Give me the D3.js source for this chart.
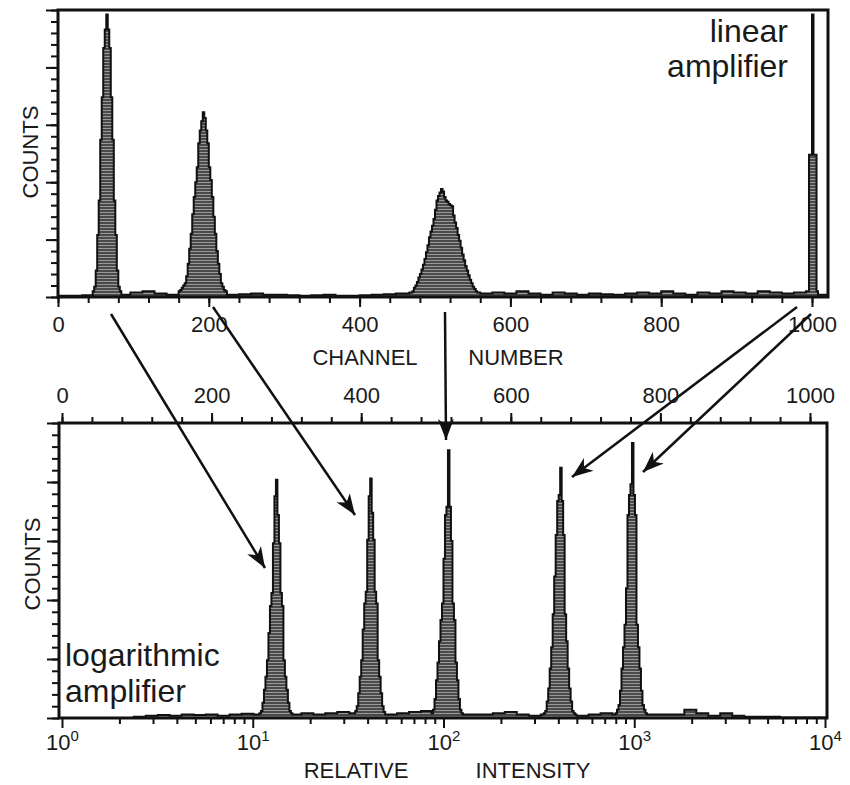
<!DOCTYPE html>
<html>
<head>
<meta charset="utf-8">
<script src="https://cdn.jsdelivr.net/npm/d3@7"></script>
<style>
  body { margin: 0; background: #fff; }
  text { font-family: "Liberation Sans", Arial, Helvetica, sans-serif; fill: #1a1a1a; }
</style>
</head>
<body>
<div id="chart"></div>
<script>
// tick labels
var channelTicks = [0, 200, 400, 600, 800, 1000];
var intensityTicks = [1, 10, 100, 1000, 10000];

// histograms are stored in 2-channel bins, background noise in 16-channel bins
var binWidth = 2;
var backgroundBinWidth = 16;

// linear amplifier (top panel)
var linearPeakStarts = [46, 160, 466, 996];
var linearPeak1 = [0.5, 0.9, 2.3, 5.4, 8.4, 13.7, 17.4, 21.7, 23.3, 24.6, 23.3, 21.7, 17.4, 13.7, 8.4, 5.4, 2.3, 0.9, 0.5];
var linearPeak2 = [0.5, 0.6, 0.8, 1.0, 1.2, 1.8, 2.9, 4.2, 5.5, 7.2, 8.7, 10.0, 11.3, 13.4, 14.5, 15.3, 16.1, 15.6, 14.5, 13.4,
                   11.3, 10.2, 8.7, 7.0, 5.5, 4.0, 2.9, 2.0, 1.2, 0.9, 0.6, 0.5];
var linearPeak3 = [0.4, 0.4, 0.5, 0.8, 1.0, 1.3, 1.7, 2.0, 2.4, 2.8, 3.3, 3.9, 4.5, 5.2, 5.7, 6.2, 6.8, 7.6, 8.4, 8.8,
                   9.1, 9.4, 9.2, 8.7, 8.4, 8.3, 8.1, 8.0, 7.9, 7.1, 6.5, 6.0, 5.4, 4.9, 4.3, 3.7, 3.2, 2.7, 2.3, 1.9,
                   1.5, 1.2, 0.9, 0.7, 0.5, 0.4, 0.4, 0.3, 0.3];
var linearPeak4 = [12.4, 12.4, 24.6, 12.4, 12.4];
var linearBackground = [0.1, 0.1, 0.15, 0.2, 0.2, 0.2, 0.4, 0.5, 0.3, 0.2, 0.2, 0.2, 0.2, 0.2, 0.2, 0.25,
                        0.3, 0.2, 0.2, 0.15, 0.1, 0.15, 0.2, 0.1, 0.1, 0.15, 0.2, 0.25, 0.3, 0.3, 0.3, 0.3,
                        0.3, 0.3, 0.3, 0.3, 0.4, 0.3, 0.5, 0.3, 0.2, 0.4, 0.3, 0.2, 0.3, 0.25, 0.2, 0.3,
                        0.4, 0.3, 0.5, 0.3, 0.2, 0.4, 0.3, 0.5, 0.4, 0.3, 0.5, 0.4, 0.3, 0.4, 0.5, 0.2];

// logarithmic amplifier (bottom panel)
var logPeakStarts = [264, 390, 494, 644, 740];
var logPeak1 = [0.4, 0.6, 1.3, 2.4, 3.5, 4.9, 7.2, 9.5, 10.6, 14.8, 18.8, 20.2, 17.2, 14.8, 10.6, 9.5, 4.9, 3.5, 2.4, 1.3, 0.6, 0.4];
var logPeak2 = [0.4, 0.6, 1.0, 2.1, 3.5, 4.9, 7.5, 9.7, 10.7, 15.1, 18.8, 20.3, 17.4, 15.1, 10.7, 9.7, 4.9, 3.5, 2.1, 1.0, 0.5];
var logPeak3 = [0.4, 0.7, 1.6, 3.2, 4.7, 6.5, 8.3, 9.7, 13.5, 17.2, 17.9, 22.7, 17.9, 15.0, 9.7, 8.3, 4.7, 3.2, 1.6, 0.7, 0.4];
var logPeak4 = [0.4, 0.6, 1.4, 2.5, 4.2, 6.0, 8.8, 12.0, 15.5, 18.4, 18.9, 21.2, 18.4, 15.5, 8.8, 6.5, 4.2, 2.5, 1.4, 0.6, 0.4];
var logPeak5 = [0.4, 0.7, 1.1, 2.3, 4.2, 6.0, 7.9, 11.0, 17.2, 18.9, 19.8, 23.3, 18.9, 17.2, 7.9, 6.0, 4.2, 2.3, 1.1, 0.7, 0.4];
var logBackground = [0, 0, 0, 0, 0, 0, 0.1, 0.2, 0.25, 0.2, 0.3, 0.25, 0.3, 0.2, 0.3, 0.35,
                     0.3, 0.3, 0.3, 0.3, 0.4, 0.3, 0.4, 0.5, 0.4, 0.3, 0.3, 0.3, 0.4, 0.5, 0.6, 0.4,
                     0.3, 0.3, 0.3, 0.3, 0.4, 0.5, 0.3, 0.2, 0.3, 0.3, 0.3, 0.2, 0.3, 0.4, 0.3, 0.3,
                     0.3, 0.3, 0.3, 0.3, 0.7, 0.4, 0.2, 0.4, 0.2, 0.1, 0.1, 0.1, 0.05, 0.05, 0.05, 0.05];

// annotation arrows (pixel positions)
var arrowStarts = [[111, 314], [213, 307], [445, 312], [797, 307], [811, 314]];
var arrowEnds = [[265, 568], [355, 515], [446, 440], [572, 477], [643, 472]];

function buildBins(starts, peaks, background) {
    var bins = [];
    for (var ch = 0; ch < 1024; ch += binWidth) {
        var v = background[Math.floor(ch / backgroundBinWidth)];
        peaks.forEach(function(p, i) {
            var k = (ch - starts[i]) / binWidth;
            if (k >= 0 && k < p.length) v = p[k];
        });
        bins.push({ch: ch, v: v});
    }
    bins.push({ch: 1024, v: bins[bins.length - 1].v});
    return bins;
}

var svg = d3.select("#chart").append("svg")
    .attr("width", 850)
    .attr("height", 785);

var defs = svg.append("defs");
var pat = defs.append("pattern")
    .attr("id", "hatch")
    .attr("patternUnits", "userSpaceOnUse")
    .attr("width", 4).attr("height", 3);
pat.append("rect").attr("width", 4).attr("height", 3).attr("fill", "#4a4a4a");
pat.append("rect").attr("y", 2).attr("width", 4).attr("height", 1).attr("fill", "#999");

defs.append("marker")
    .attr("id", "head")
    .attr("markerUnits", "userSpaceOnUse")
    .attr("viewBox", "-22 -9 24 18")
    .attr("refX", 0).attr("refY", 0)
    .attr("markerWidth", 24).attr("markerHeight", 18)
    .attr("orient", "auto")
    .append("path")
    .attr("d", "M0,0 L-21,-8 L-15,0 L-21,8 Z")
    .attr("fill", "#111");

function drawHistogram(bins, x, y, frame, id) {
    defs.append("clipPath").attr("id", id)
        .append("rect")
        .attr("x", frame[0]).attr("y", frame[1])
        .attr("width", frame[2] - frame[0]).attr("height", frame[3] - frame[1]);

    var area = d3.area()
        .x(function(d) { return x(d.ch); })
        .y0(y(0))
        .y1(function(d) { return y(d.v); })
        .curve(d3.curveStepAfter);
    var line = d3.line()
        .x(function(d) { return x(d.ch); })
        .y(function(d) { return y(d.v); })
        .curve(d3.curveStepAfter);

    var g = svg.append("g").attr("clip-path", "url(#" + id + ")");
    g.append("path").datum(bins).attr("d", area).attr("fill", "url(#hatch)");
    g.append("path").datum(bins).attr("d", line)
        .attr("fill", "none").attr("stroke", "#111").attr("stroke-width", 2);

    svg.append("rect")
        .attr("x", frame[0]).attr("y", frame[1])
        .attr("width", frame[2] - frame[0]).attr("height", frame[3] - frame[1])
        .attr("fill", "none").attr("stroke", "#111").attr("stroke-width", 3);
}

function styleAxis(g) {
    g.select(".domain").remove();
    g.selectAll(".tick line").attr("stroke", "#111").attr("stroke-width", 2);
    g.selectAll("text").style("font-size", "22px").attr("fill", "#1a1a1a")
        .style("font-family", '"Liberation Sans", Arial, sans-serif');
}

function countAxis(y, xPos) {
    svg.append("g").attr("transform", "translate(" + xPos + ",0)")
        .call(d3.axisLeft(y).tickValues(d3.range(0, 26, 1)).tickSize(7).tickFormat(""))
        .call(styleAxis);
    svg.append("g").attr("transform", "translate(" + xPos + ",0)")
        .call(d3.axisLeft(y).tickValues(d3.range(0, 26, 5)).tickSize(12).tickFormat(""))
        .call(styleAxis);
}

// ---------- top panel: linear amplifier ----------
var xTop = d3.scaleLinear().domain([0, 1000]).range([58, 812]);
var yTop = d3.scaleLinear().domain([0, 25]).range([297, 10]);

drawHistogram(buildBins(linearPeakStarts, [linearPeak1, linearPeak2, linearPeak3, linearPeak4], linearBackground),
    xTop, yTop, [58, 10, 828, 297], "clipTop");

svg.append("g").attr("transform", "translate(0,297)")
    .call(d3.axisBottom(xTop).tickValues(d3.range(0, 1001, 40)).tickSize(6).tickFormat(""))
    .call(styleAxis);
svg.append("g").attr("transform", "translate(0,297)")
    .call(d3.axisBottom(xTop).tickValues(channelTicks).tickSize(10).tickFormat(d3.format("d")))
    .call(styleAxis)
    .selectAll("text").attr("y", 35).attr("dy", 0);
countAxis(yTop, 58);

// ---------- bottom panel: logarithmic amplifier ----------
var xBotCh = d3.scaleLinear().domain([0, 1000]).range([62, 810]);
var xLog = d3.scaleLog().domain([1, 10000]).range([62, 825]);
var yBot = d3.scaleLinear().domain([0, 25]).range([718, 423]);

drawHistogram(buildBins(logPeakStarts, [logPeak1, logPeak2, logPeak3, logPeak4, logPeak5], logBackground),
    xBotCh, yBot, [59, 423, 827, 718], "clipBot");

svg.append("g").attr("transform", "translate(0,423)")
    .call(d3.axisTop(xBotCh).tickValues(d3.range(0, 1001, 40)).tickSize(6).tickFormat(""))
    .call(styleAxis);
svg.append("g").attr("transform", "translate(0,423)")
    .call(d3.axisTop(xBotCh).tickValues(channelTicks).tickSize(10).tickFormat(d3.format("d")))
    .call(styleAxis)
    .selectAll("text").attr("y", -20).attr("dy", 0);

var minorLog = [];
intensityTicks.slice(0, -1).forEach(function(p) {
    for (var m = 2; m < 10; m++) minorLog.push(p * m);
});
svg.append("g").attr("transform", "translate(0,718)")
    .call(d3.axisBottom(xLog).tickValues(minorLog).tickSize(6).tickFormat(""))
    .call(styleAxis);
var logAxis = svg.append("g").attr("transform", "translate(0,718)")
    .call(d3.axisBottom(xLog).tickValues(intensityTicks).tickSize(10).tickFormat(""))
    .call(styleAxis);
logAxis.selectAll(".tick").append("text")
    .attr("y", 32).attr("text-anchor", "middle")
    .each(function(d) {
        var t = d3.select(this);
        t.append("tspan").style("font-size", "22px").text("10");
        t.append("tspan").style("font-size", "15px").attr("dy", -9).text(Math.round(Math.log10(d)));
    });
countAxis(yBot, 59);

// ---------- titles ----------
svg.append("text").attr("transform", "translate(38,152) rotate(-90)")
    .attr("text-anchor", "middle").style("font-size", "22px").text("COUNTS");
svg.append("text").attr("transform", "translate(40,564) rotate(-90)")
    .attr("text-anchor", "middle").style("font-size", "22px").text("COUNTS");

svg.append("text").attr("x", 365).attr("y", 365).attr("text-anchor", "middle")
    .style("font-size", "22px").text("CHANNEL");
svg.append("text").attr("x", 516).attr("y", 365).attr("text-anchor", "middle")
    .style("font-size", "22px").text("NUMBER");
svg.append("text").attr("x", 356).attr("y", 778).attr("text-anchor", "middle")
    .style("font-size", "22px").text("RELATIVE");
svg.append("text").attr("x", 533).attr("y", 778).attr("text-anchor", "middle")
    .style("font-size", "22px").text("INTENSITY");

svg.append("text").attr("x", 788).attr("y", 42).attr("text-anchor", "end")
    .style("font-size", "32px").text("linear");
svg.append("text").attr("x", 788).attr("y", 77).attr("text-anchor", "end")
    .style("font-size", "32px").text("amplifier");
svg.append("text").attr("x", 65).attr("y", 666)
    .style("font-size", "32px").text("logarithmic");
svg.append("text").attr("x", 65).attr("y", 702)
    .style("font-size", "32px").text("amplifier");

// ---------- arrows ----------
svg.selectAll(".arrow")
    .data(arrowStarts)
    .enter().append("line")
    .attr("class", "arrow")
    .attr("x1", function(d) { return d[0]; })
    .attr("y1", function(d) { return d[1]; })
    .attr("x2", function(d, i) { return arrowEnds[i][0]; })
    .attr("y2", function(d, i) { return arrowEnds[i][1]; })
    .attr("stroke", "#111")
    .attr("stroke-width", 2.5)
    .attr("marker-end", "url(#head)");
</script>
</body>
</html>
